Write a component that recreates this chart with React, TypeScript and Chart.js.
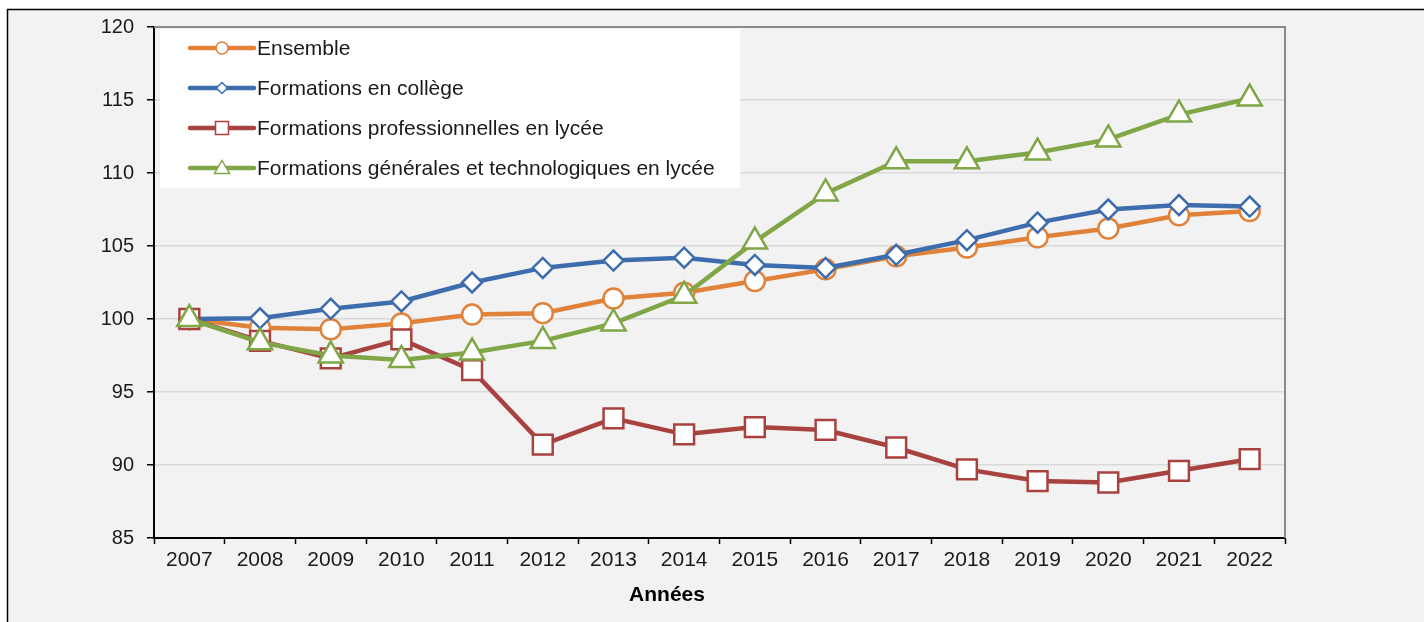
import React, { useEffect, useRef } from "react";
import { Chart, registerables } from "chart.js";

Chart.register(...registerables);

const years = ["2007", "2008", "2009", "2010", "2011", "2012", "2013", "2014", "2015", "2016", "2017", "2018", "2019", "2020", "2021", "2022"];

const ensemble = [100, 99.4, 99.3, 99.7, 100.3, 100.4, 101.4, 101.8, 102.6, 103.4, 104.3, 104.9, 105.6, 106.2, 107.1, 107.4];
const college = [100, 100.05, 100.7, 101.2, 102.5, 103.5, 104.0, 104.2, 103.7, 103.5, 104.4, 105.4, 106.6, 107.5, 107.8, 107.7];
const professionnelles = [100, 98.5, 97.3, 98.6, 96.5, 91.4, 93.2, 92.1, 92.6, 92.4, 91.2, 89.7, 88.9, 88.8, 89.6, 90.4];
const generales = [100, 98.4, 97.5, 97.2, 97.7, 98.5, 99.7, 101.6, 105.3, 108.6, 110.8, 110.8, 111.4, 112.3, 114.0, 115.1];

const seriesLabels = [
  "Ensemble",
  "Formations en collège",
  "Formations professionnelles en lycée",
  "Formations générales et technologiques en lycée",
];

const yMin = 85;
const yMax = 120;
const yStep = 5;
const xAxisTitle = "Années";

const FONT = 'Arial, "Liberation Sans", sans-serif';

const COLORS = ["#E0823A", "#3E6DAD", "#A8423F", "#80A648"];

function drawLegendMarker(ctx: CanvasRenderingContext2D, style: string, x: number, y: number, color: string) {
  ctx.save();
  ctx.fillStyle = "#ffffff";
  ctx.strokeStyle = color;
  ctx.lineWidth = 1.5;
  ctx.beginPath();
  if (style === "circle") {
    ctx.arc(x, y, 6, 0, Math.PI * 2);
  } else if (style === "rectRot") {
    ctx.moveTo(x, y - 5.5);
    ctx.lineTo(x + 5.5, y);
    ctx.lineTo(x, y + 5.5);
    ctx.lineTo(x - 5.5, y);
    ctx.closePath();
  } else if (style === "rect") {
    ctx.rect(x - 6.5, y - 6.5, 13, 13);
  } else {
    ctx.moveTo(x, y - 7.5);
    ctx.lineTo(x + 7.5, y + 5.5);
    ctx.lineTo(x - 7.5, y + 5.5);
    ctx.closePath();
  }
  ctx.fill();
  ctx.stroke();
  ctx.restore();
}

const backgroundPlugin = {
  id: "bgFrame",
  beforeDraw(chart: any) {
    const ctx = chart.ctx as CanvasRenderingContext2D;
    const w = chart.width;
    const h = chart.height;
    ctx.save();
    ctx.fillStyle = "#ffffff";
    ctx.fillRect(0, 0, w, h);
    ctx.fillStyle = "#f2f2f2";
    ctx.fillRect(7, 9, w - 7, h - 9);
    ctx.strokeStyle = "#000000";
    ctx.lineWidth = 1.5;
    ctx.beginPath();
    ctx.moveTo(7.5, h);
    ctx.lineTo(7.5, 9.5);
    ctx.lineTo(w, 9.5);
    ctx.stroke();
    ctx.restore();
  },
};

const legendPlugin = {
  id: "customLegend",
  beforeDatasetsDraw(chart: any) {
    const ctx = chart.ctx as CanvasRenderingContext2D;
    const area = chart.chartArea;
    ctx.save();
    ctx.strokeStyle = "#8a8a8a";
    ctx.lineWidth = 2;
    ctx.beginPath();
    ctx.moveTo(area.left, area.top);
    ctx.lineTo(area.right, area.top);
    ctx.lineTo(area.right, area.bottom);
    ctx.stroke();
    ctx.fillStyle = "#ffffff";
    ctx.fillRect(160, 29, 580, 159);
    chart.data.datasets.forEach((ds: any, i: number) => {
      const y = 48 + i * 40;
      ctx.strokeStyle = ds.borderColor;
      ctx.lineWidth = 4.5;
      ctx.lineCap = "round";
      ctx.beginPath();
      ctx.moveTo(190, y);
      ctx.lineTo(254, y);
      ctx.stroke();
      drawLegendMarker(ctx, ds.pointStyle, 222, y, ds.borderColor);
      ctx.fillStyle = "#1a1a1a";
      ctx.font = `21px ${FONT}`;
      ctx.textBaseline = "middle";
      ctx.textAlign = "left";
      ctx.fillText(ds.label, 257, y + 1);
    });
    ctx.restore();
  },
  afterDraw(chart: any) {
    const ctx = chart.ctx as CanvasRenderingContext2D;
    ctx.save();
    ctx.fillStyle = "#000000";
    ctx.font = `bold 21px ${FONT}`;
    ctx.textAlign = "center";
    ctx.textBaseline = "middle";
    ctx.fillText(xAxisTitle, 667, 595);
    ctx.restore();
  },
};

export default function App() {
  const canvasRef = useRef<HTMLCanvasElement | null>(null);

  useEffect(() => {
    if (!canvasRef.current) return;
    const series = [ensemble, college, professionnelles, generales];
    const styles = ["circle", "rectRot", "rect", "triangle"];
    const radii = [10, 10, 14, 14];
    const chart = new Chart(canvasRef.current, {
      type: "line",
      data: {
        labels: years,
        datasets: series.map((d, i) => ({
          label: seriesLabels[i],
          data: d,
          borderColor: COLORS[i],
          backgroundColor: "#ffffff",
          borderWidth: 4.5,
          pointStyle: styles[i],
          pointRadius: radii[i],
          pointBorderWidth: 2.5,
          pointBackgroundColor: "#ffffff",
          pointBorderColor: COLORS[i],
          tension: 0,
          order: 4 - i,
        })),
      },
      options: {
        animation: false,
        responsive: false,
        maintainAspectRatio: false,
        layout: { padding: { left: 0, top: 27, right: 139, bottom: 0 } },
        plugins: {
          legend: { display: false },
          tooltip: { enabled: false },
          title: { display: false },
        },
        scales: {
          x: {
            type: "category",
            offset: true,
            grid: {
              offset: true,
              drawOnChartArea: false,
              drawTicks: true,
              tickLength: 6,
              tickColor: "#000000",
              tickWidth: 1.5,
            },
            border: { color: "#000000", width: 2 },
            ticks: {
              color: "#1a1a1a",
              font: { family: FONT, size: 21 },
              padding: 4,
              maxRotation: 0,
              autoSkip: false,
            },
            afterFit: (scale: any) => {
              scale.height = 84;
            },
          },
          y: {
            min: yMin,
            max: yMax,
            grid: {
              color: "#d9d9d9",
              lineWidth: 1.5,
              drawTicks: true,
              tickLength: 7,
              tickColor: "#000000",
              tickWidth: 1.5,
            },
            border: { color: "#000000", width: 2 },
            ticks: {
              stepSize: yStep,
              color: "#1a1a1a",
              font: { family: FONT, size: 20 },
              padding: 13,
            },
            afterFit: (scale: any) => {
              scale.width = 154;
            },
          },
        },
      },
      plugins: [backgroundPlugin, legendPlugin],
    } as any);
    return () => chart.destroy();
  }, []);

  return (
    <div style={{ position: "absolute", left: 0, top: 0, width: 1424, height: 622, overflow: "hidden" }}>
      <canvas ref={canvasRef} width={1424} height={622} style={{ width: 1424, height: 622, display: "block" }} />
    </div>
  );
}
